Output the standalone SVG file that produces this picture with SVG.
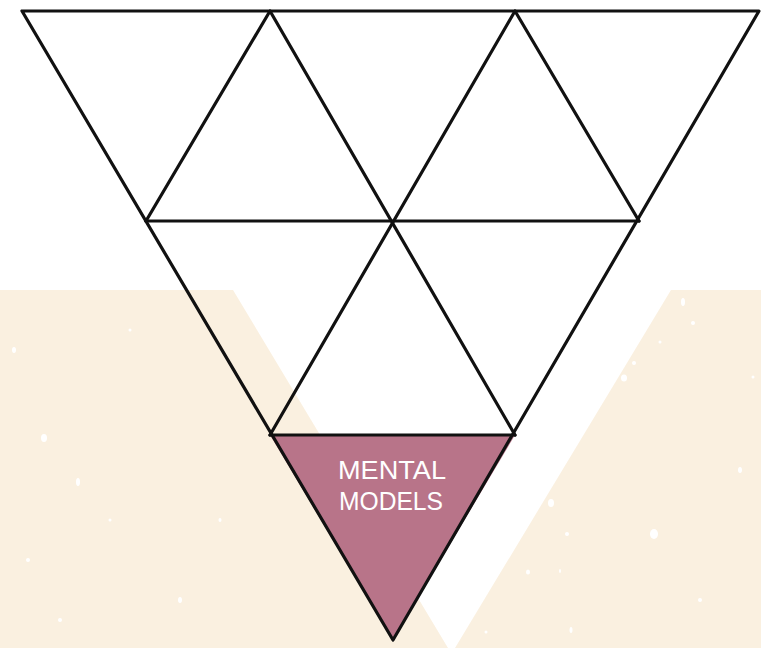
<svg xmlns="http://www.w3.org/2000/svg" width="761" height="648" viewBox="0 0 761 648">
  <style>
    .bg { fill: #faf0e0; }
    .spk { fill: #ffffff; }
    .edge { stroke: #111111; stroke-width: 3.2; stroke-linecap: round; stroke-linejoin: round; fill: none; }
    .label { fill: #ffffff; font-family: "Liberation Sans", Arial, sans-serif; font-size: 25px; text-anchor: middle; }
  </style>
  <rect width="761" height="648" fill="#ffffff"/>
  <g id="background">
    <polygon class="bg" points="0,290 233,290 448,648 0,648"/>
    <polygon class="bg" points="671,290 761,290 761,648 455,648"/>
    <g class="spk">
      <ellipse cx="14" cy="350" rx="2" ry="3"/>
      <ellipse cx="44" cy="438" rx="3" ry="4"/>
      <ellipse cx="78" cy="482" rx="2" ry="4"/>
      <ellipse cx="130" cy="330" rx="1.5" ry="1.5"/>
      <ellipse cx="28" cy="560" rx="2" ry="2"/>
      <ellipse cx="180" cy="600" rx="2" ry="3"/>
      <ellipse cx="110" cy="520" rx="1.5" ry="1.5"/>
      <ellipse cx="60" cy="620" rx="2" ry="2"/>
      <ellipse cx="220" cy="520" rx="1.5" ry="2"/>
      <ellipse cx="683" cy="302" rx="2" ry="4"/>
      <ellipse cx="693" cy="323" rx="2" ry="2"/>
      <ellipse cx="660" cy="342" rx="1.5" ry="1.5"/>
      <ellipse cx="634" cy="363" rx="2" ry="2"/>
      <ellipse cx="624" cy="378" rx="3" ry="3.5"/>
      <ellipse cx="753" cy="377" rx="1.5" ry="1.5"/>
      <ellipse cx="551" cy="503" rx="3" ry="4"/>
      <ellipse cx="567" cy="534" rx="2" ry="2"/>
      <ellipse cx="654" cy="534" rx="4" ry="5"/>
      <ellipse cx="560" cy="571" rx="1" ry="2"/>
      <ellipse cx="528" cy="572" rx="2" ry="2.5"/>
      <ellipse cx="486" cy="632" rx="1.5" ry="1.5"/>
      <ellipse cx="571" cy="630" rx="1.5" ry="3"/>
      <ellipse cx="700" cy="600" rx="2" ry="2"/>
      <ellipse cx="740" cy="470" rx="2" ry="3"/>
    </g>
  </g>
  <g id="node-mental-models">
    <polygon points="270,435 515,435 393,640" fill="#b87489"/>
    <text class="label" x="392" y="479" textLength="108" lengthAdjust="spacingAndGlyphs">MENTAL</text>
    <text class="label" x="391" y="510" textLength="104" lengthAdjust="spacingAndGlyphs">MODELS</text>
  </g>
  <g id="connectors">
    <polygon class="edge" points="22,11 759,11 393,640"/>
    <line class="edge" x1="146" y1="221" x2="639" y2="221"/>
    <line class="edge" x1="270" y1="435" x2="515" y2="435"/>
    <polyline class="edge" points="146,221 270,11 515,435"/>
    <polyline class="edge" points="270,435 515,11 639,221"/>
  </g>
</svg>
